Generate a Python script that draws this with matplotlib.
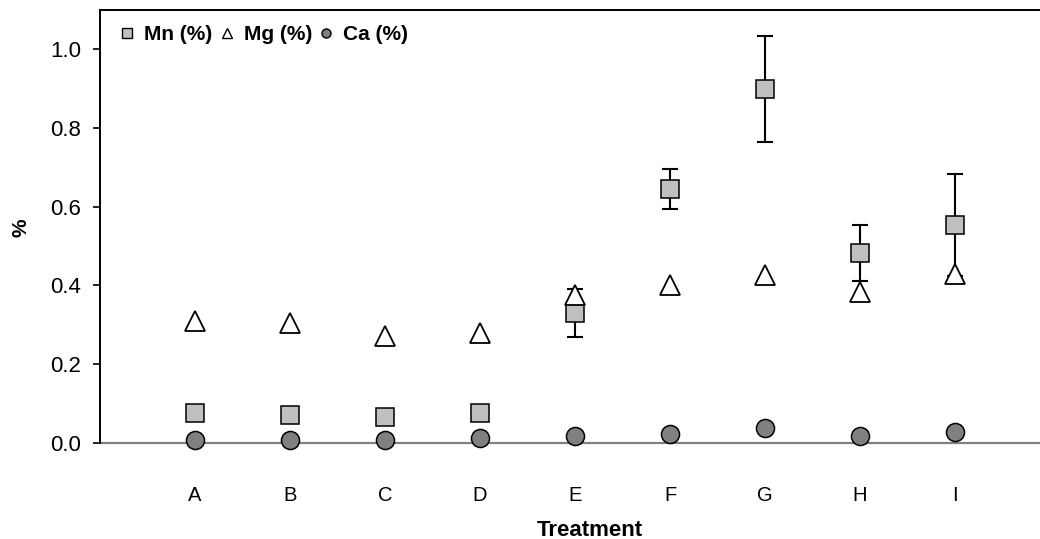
import matplotlib
matplotlib.use("Agg")
import matplotlib.pyplot as plt
from matplotlib.lines import Line2D

plt.rcParams['font.family'] = ['Liberation Sans', 'DejaVu Sans']

categories = ['A', 'B', 'C', 'D', 'E', 'F', 'G', 'H', 'I']
mn = [0.076, 0.071, 0.066, 0.076, 0.330, 0.645, 0.900, 0.483, 0.553]
mn_err = [0.0, 0.0, 0.0, 0.0, 0.062, 0.052, 0.135, 0.071, 0.130]
mg = [0.309, 0.304, 0.270, 0.279, 0.375, 0.402, 0.426, 0.382, 0.429]
ca = [0.007, 0.007, 0.007, 0.013, 0.018, 0.022, 0.037, 0.018, 0.026]
yticks = [0.0, 0.2, 0.4, 0.6, 0.8, 1.0]

W, H = 1040, 539
fig = plt.figure(figsize=(W / 100, H / 100), dpi=100)
x0, x1 = 100, 1040
y_top, y_zero = 10, 442.7
ax = fig.add_axes([x0 / W, (H - y_zero) / H, (x1 - x0) / W, (y_zero - y_top) / H])

xs = list(range(1, len(categories) + 1))
ax.set_xlim(0, (x1 - x0) / 95.0)
ax.set_ylim(0, 1.1)

ms = 13
ax.errorbar(xs, mn, yerr=mn_err, fmt='none', ecolor='black', elinewidth=1.5,
            capsize=5.5, capthick=1.5, zorder=3, clip_on=False)
ax.plot(xs, mn, linestyle='none', marker='s', ms=ms, mfc='#C0C0C0', mec='black',
        mew=1.1, zorder=4, clip_on=False)
ax.plot(xs, mg, linestyle='none', marker='^', ms=ms + 1.5, mfc='white', mec='black',
        mew=1.3, zorder=5, clip_on=False)
ax.plot(xs, ca, linestyle='none', marker='o', ms=ms, mfc='#808080', mec='black',
        mew=1.1, zorder=6, clip_on=False)

ax.spines['right'].set_visible(False)
ax.spines['left'].set_linewidth(1.4)
ax.spines['top'].set_linewidth(1.4)
ax.spines['bottom'].set_color('#808080')
ax.spines['bottom'].set_linewidth(1.6)
ax.spines['bottom'].set_zorder(2)

ax.set_yticks(yticks)
ax.set_yticklabels([f'{v:.1f}' for v in yticks], fontsize=16)
ax.tick_params(axis='y', direction='out', length=5, width=1.2, pad=8.5)
ax.set_xticks(xs)
ax.set_xticklabels(categories, fontsize=14.5)
ax.tick_params(axis='x', length=0, pad=31.5)

fig.text(21 / W, 1 - 228 / H, '%', rotation=90, ha='center', va='center',
         fontsize=15, fontweight='bold')
fig.text(590 / W, 1 - 530 / H, 'Treatment', ha='center', va='center',
         fontsize=16, fontweight='bold')

handles = [
    Line2D([], [], linestyle='none', marker='s', ms=6.5, mfc='#C0C0C0', mec='black', mew=1.0),
    Line2D([], [], linestyle='none', marker='^', ms=7.5, mfc='white', mec='black', mew=1.0),
    Line2D([], [], linestyle='none', marker='o', ms=6.5, mfc='#808080', mec='black', mew=1.0),
]
leg = ax.legend(handles, ['Mn (%)', 'Mg (%)', 'Ca (%)'], ncol=3, frameon=False,
                loc='center left', bbox_to_anchor=((119 - x0) / (x1 - x0), (y_zero - 35) / (y_zero - y_top)),
                borderpad=0, borderaxespad=0, handlelength=0.8, handletextpad=0.4,
                columnspacing=0.3, prop={'weight': 'bold', 'size': 15})

fig.savefig('out.png', dpi=100)
